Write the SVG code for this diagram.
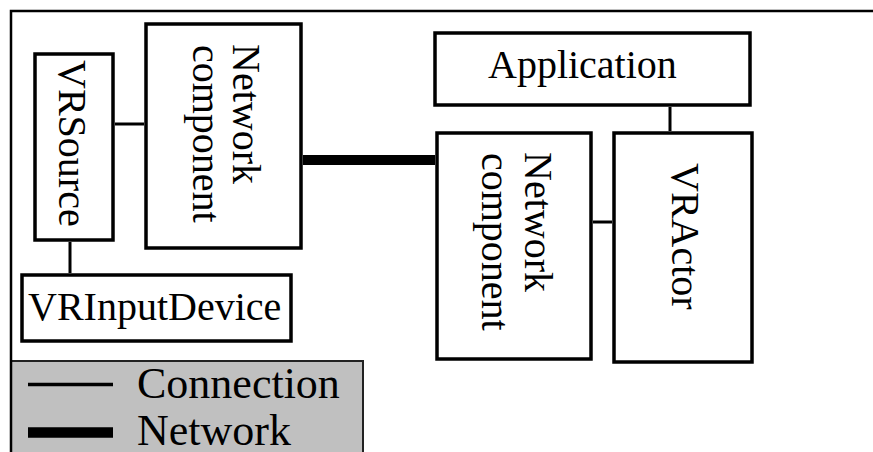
<svg xmlns="http://www.w3.org/2000/svg" width="873" height="452" viewBox="0 0 873 452">
<style>
.box{fill:#fff;stroke:#000;stroke-width:3.5}
.t{font-family:"Liberation Serif","Times New Roman",serif;font-size:40px;fill:#000}
.lg{font-family:"Liberation Serif","Times New Roman",serif;font-size:44px;fill:#000}
.conn{stroke:#000;stroke-width:3;fill:none}
.net{stroke:#000;stroke-width:10;fill:none}
</style>
<rect width="873" height="452" fill="#fff"/>
<g id="legend">
<rect x="11" y="361" width="352" height="95" fill="#c0c0c0" stroke="#222" stroke-width="2"/>
<line x1="28" y1="384.5" x2="113" y2="384.5" stroke="#000" stroke-width="3.5"/>
<line x1="28" y1="432.5" x2="113" y2="432.5" stroke="#000" stroke-width="10.5"/>
<text class="lg" x="137" y="398">Connection</text>
<text class="lg" x="137" y="445">Network</text>
</g>
<path d="M11 452 V11 H873" fill="none" stroke="#000" stroke-width="2.5"/>
<g id="connectors">
<line class="conn" x1="115" y1="124" x2="144" y2="124"/>
<line class="conn" x1="70" y1="242" x2="70" y2="273"/>
<line class="net" x1="303" y1="160" x2="435" y2="160"/>
<line class="conn" x1="670" y1="107" x2="670" y2="131"/>
<line class="conn" x1="593" y1="222" x2="612" y2="222"/>
</g>
<g id="vrsource">
<rect class="box" x="35" y="54" width="78" height="186"/>
<text class="t" transform="translate(59,60) rotate(90)">VRSource</text>
</g>
<g id="netcomp-left">
<rect class="box" x="146" y="24" width="155" height="224"/>
<text class="t" transform="translate(233,44) rotate(90)">Network</text>
<text class="t" transform="translate(193,45) rotate(90)">component</text>
</g>
<g id="vrinputdevice">
<rect class="box" x="22" y="275" width="269" height="66"/>
<text class="t" x="28" y="320">VRInputDevice</text>
</g>
<g id="application">
<rect class="box" x="435" y="33" width="315" height="72"/>
<text class="t" x="488" y="78">Application</text>
</g>
<g id="netcomp-right">
<rect class="box" x="437" y="133" width="154" height="226"/>
<text class="t" transform="translate(525,152) rotate(90)">Network</text>
<text class="t" transform="translate(482,153) rotate(90)">component</text>
</g>
<g id="vractor">
<rect class="box" x="614" y="133" width="138" height="229"/>
<text class="t" transform="translate(672,163) rotate(90)">VRActor</text>
</g>
</svg>
